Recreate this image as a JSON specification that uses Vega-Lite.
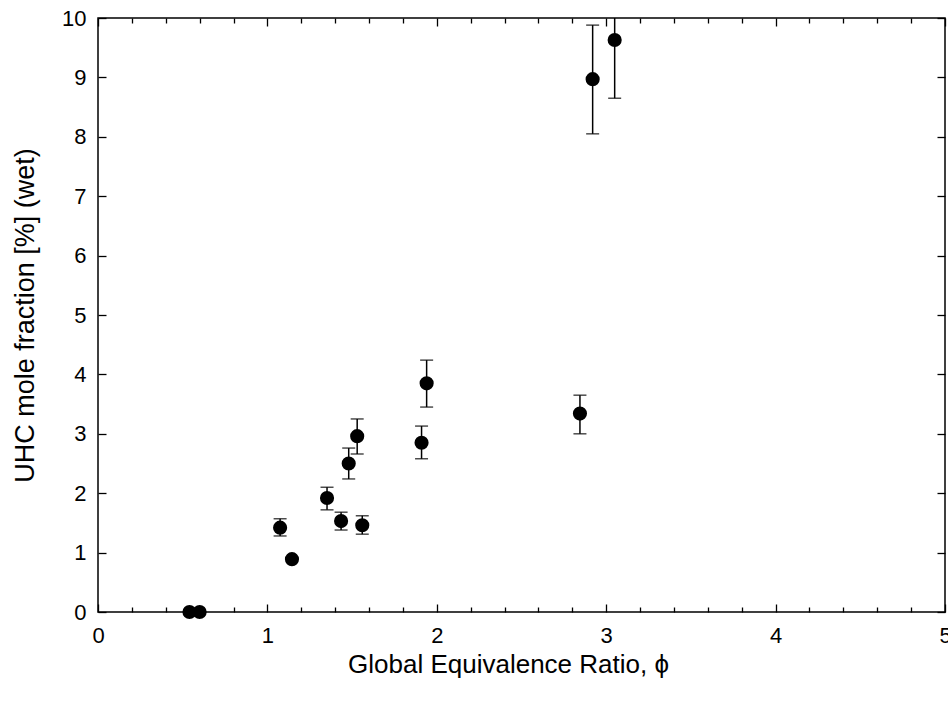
{
  "$schema": "https://vega.github.io/schema/vega-lite/v6.json",
  "width": 847,
  "height": 594,
  "autosize": {"type": "none"},
  "padding": {"left": 98, "top": 18, "right": 3, "bottom": 93},
  "background": "white",
  "config": {
    "view": {"stroke": "black", "strokeWidth": 1.5},
    "font": "Liberation Sans",
    "axis": {"grid": false, "domain": false, "tickColor": "black", "tickWidth": 1.3, "labelColor": "black", "titleColor": "black", "labelFont": "Liberation Sans", "titleFont": "Liberation Sans", "titleFontWeight": "normal", "labelFlush": false}
  },
  "data": {
    "values": [
      {"phi": 0.54, "uhc": 0.0, "lo": null, "hi": null},
      {"phi": 0.60, "uhc": 0.0, "lo": null, "hi": null},
      {"phi": 1.075, "uhc": 1.42, "lo": 1.28, "hi": 1.57},
      {"phi": 1.145, "uhc": 0.89, "lo": null, "hi": null},
      {"phi": 1.352, "uhc": 1.92, "lo": 1.72, "hi": 2.10},
      {"phi": 1.435, "uhc": 1.53, "lo": 1.38, "hi": 1.68},
      {"phi": 1.48, "uhc": 2.50, "lo": 2.24, "hi": 2.76},
      {"phi": 1.53, "uhc": 2.96, "lo": 2.66, "hi": 3.25},
      {"phi": 1.56, "uhc": 1.46, "lo": 1.31, "hi": 1.62},
      {"phi": 1.91, "uhc": 2.85, "lo": 2.58, "hi": 3.13},
      {"phi": 1.94, "uhc": 3.85, "lo": 3.45, "hi": 4.24},
      {"phi": 2.845, "uhc": 3.34, "lo": 3.00, "hi": 3.65},
      {"phi": 2.92, "uhc": 8.97, "lo": 8.05, "hi": 9.88},
      {"phi": 3.05, "uhc": 9.63, "lo": 8.65, "hi": 10.61}
    ]
  },
  "resolve": {"axis": {"x": "independent", "y": "independent"}},
  "layer": [
    {
      "mark": {"type": "rule", "color": "black", "strokeWidth": 1.5, "clip": true},
      "encoding": {
        "x": {"field": "phi", "type": "quantitative", "scale": {"domain": [0, 5], "nice": false, "zero": false},
              "axis": {"orient": "bottom", "values": [0, 1, 2, 3, 4, 5], "labels": false, "tickSize": -8, "title": null}},
        "y": {"field": "lo", "type": "quantitative", "scale": {"domain": [0, 10], "nice": false, "zero": false},
              "axis": {"orient": "left", "values": [0, 1, 2, 3, 4, 5, 6, 7, 8, 9, 10], "labels": false, "tickSize": -8, "title": null}},
        "y2": {"field": "hi"}
      }
    },
    {
      "mark": {"type": "tick", "orient": "horizontal", "color": "black", "size": 13, "thickness": 1.5, "clip": true},
      "encoding": {
        "x": {"field": "phi", "type": "quantitative",
              "axis": {"orient": "bottom", "values": [0.2, 0.4, 0.6, 0.8, 1.2, 1.4, 1.6, 1.8, 2.2, 2.4, 2.6, 2.8, 3.2, 3.4, 3.6, 3.8, 4.2, 4.4, 4.6, 4.8], "labels": false, "tickSize": -5, "title": null}},
        "y": {"field": "lo", "type": "quantitative",
              "axis": {"orient": "right", "values": [0, 1, 2, 3, 4, 5, 6, 7, 8, 9, 10], "labels": false, "tickSize": -8, "title": null}}
      }
    },
    {
      "mark": {"type": "tick", "orient": "horizontal", "color": "black", "size": 13, "thickness": 1.5, "clip": true},
      "encoding": {
        "x": {"field": "phi", "type": "quantitative",
              "axis": {"orient": "top", "values": [0, 1, 2, 3, 4, 5], "labels": false, "tickSize": -8, "title": null}},
        "y": {"field": "hi", "type": "quantitative", "axis": null}
      }
    },
    {
      "mark": {"type": "circle", "color": "black", "opacity": 0},
      "encoding": {
        "x": {"field": "phi", "type": "quantitative",
              "axis": {"orient": "top", "values": [0.2, 0.4, 0.6, 0.8, 1.2, 1.4, 1.6, 1.8, 2.2, 2.4, 2.6, 2.8, 3.2, 3.4, 3.6, 3.8, 4.2, 4.4, 4.6, 4.8], "labels": false, "tickSize": -5, "title": null}},
        "y": {"field": "uhc", "type": "quantitative", "axis": null}
      }
    },
    {
      "mark": {"type": "circle", "color": "black", "opacity": 1, "size": 200},
      "encoding": {
        "x": {"field": "phi", "type": "quantitative",
              "axis": {"orient": "bottom", "values": [0, 1, 2, 3, 4, 5], "ticks": false, "labelFontSize": 22, "labelPadding": 13, "title": "Global Equivalence Ratio, ϕ", "titleFontSize": 26, "titlePadding": 5, "titleX": 410}},
        "y": {"field": "uhc", "type": "quantitative",
              "axis": {"orient": "left", "values": [0, 1, 2, 3, 4, 5, 6, 7, 8, 9, 10], "ticks": false, "labelFontSize": 22, "labelPadding": 12, "title": "UHC mole fraction [%] (wet)", "titleFontSize": 27, "titlePadding": 22}}
      }
    }
  ]
}
